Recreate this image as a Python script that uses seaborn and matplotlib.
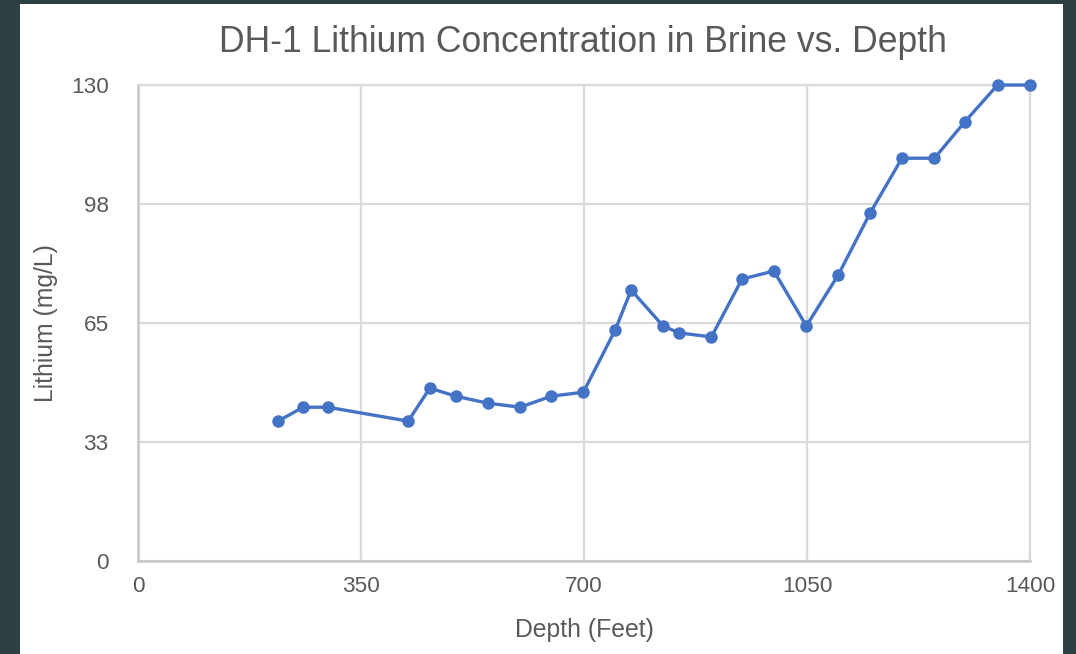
import matplotlib
matplotlib.use("Agg")
import matplotlib.pyplot as plt
import matplotlib.patches as patches
import seaborn as sns
import pandas as pd

# データ
depth_ft = [220, 259, 298, 424, 458, 499, 549, 600, 648, 699, 749, 774, 824, 849,
            900, 948, 998, 1049, 1099, 1149, 1199, 1250, 1298, 1349, 1400]
lithium_mg_l = [38.2, 42, 42, 38.2, 47.2, 45, 43.1, 42, 45, 46.1, 63.1, 74, 64.2, 62.3,
                61.2, 77, 79.2, 64.2, 78.1, 95, 110, 110, 120, 130, 130]

x_ticks = [0, 350, 700, 1050, 1400]
x_tick_labels = ["0", "350", "700", "1050", "1400"]
y_ticks = [0, 32.5, 65, 97.5, 130]
y_tick_labels = ["0", "33", "65", "98", "130"]

title = "DH-1 Lithium Concentration in Brine vs. Depth"
x_label = "Depth (Feet)"
y_label = "Lithium (mg/L)"

df = pd.DataFrame({"depth": depth_ft, "lithium": lithium_mg_l})

sns.set_style("white")
plt.rcParams["font.family"] = ["Liberation Sans", "DejaVu Sans"]

text_color = "#595959"
line_color = "#4472c4"

fig = plt.figure(figsize=(10.76, 6.54), dpi=100)
fig.patch.set_facecolor("#2c4043")
# 白いパネル
fig.add_artist(patches.Rectangle((20 / 1076, 0), (1063 - 20) / 1076, 650 / 654,
                                 transform=fig.transFigure, facecolor="white",
                                 edgecolor="none", zorder=0))

ax = fig.add_axes([138 / 1076, (654 - 561) / 654, 892 / 1076, 476 / 654])
ax.set_facecolor("white")

sns.lineplot(data=df, x="depth", y="lithium", ax=ax, color=line_color,
             linewidth=2.4, marker="o", markersize=9, markeredgewidth=0,
             clip_on=False, zorder=3)

ax.set_xlim(0, 1400)
ax.set_ylim(0, 130)
ax.set_xticks(x_ticks)
ax.set_xticklabels(x_tick_labels)
ax.set_yticks(y_ticks)
ax.set_yticklabels(y_tick_labels)

ax.grid(True, color="#d9d9d9", linewidth=1.6)
ax.set_axisbelow(True)
for side in ["top", "right"]:
    ax.spines[side].set_visible(True)
    ax.spines[side].set_color("#d9d9d9")
    ax.spines[side].set_linewidth(1.6)
for side in ["left", "bottom"]:
    ax.spines[side].set_color("#c6c6c6")
    ax.spines[side].set_linewidth(1.8)

ax.tick_params(axis="both", length=0, labelsize=16.2, labelcolor=text_color)
ax.tick_params(axis="x", pad=11)
ax.tick_params(axis="y", pad=21)

ax.set_xlabel(x_label, fontsize=17.8, color=text_color, labelpad=15)
ax.set_ylabel(y_label, fontsize=17.8, color=text_color, labelpad=9)
fig.text(583 / 1076, 1 - 43 / 654, title, fontsize=25.6, color=text_color,
         ha="center", va="center")

plt.savefig("out.png", dpi=100, facecolor=fig.get_facecolor())
plt.close("all")
